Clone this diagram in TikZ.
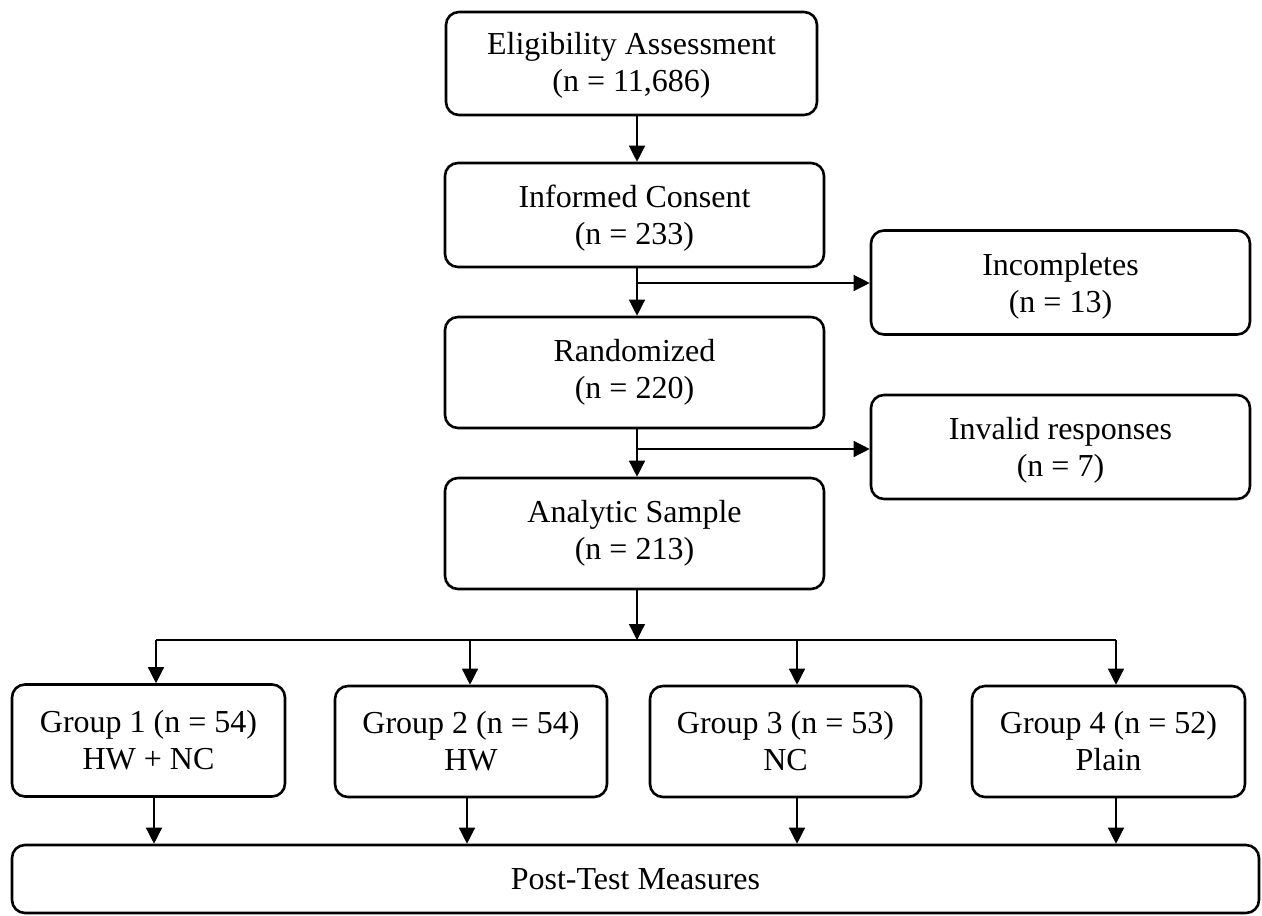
\documentclass[tikz,border=0pt]{standalone}
\usepackage{fontspec}
\setmainfont{Liberation Serif}
\usetikzlibrary{arrows.meta}
\begin{document}
\begin{tikzpicture}[x=1pt,y=-1pt,
  stagebox/.style={draw, line width=2.6pt, rounded corners=13pt, inner sep=0pt},
  boxtext/.style={inner sep=0pt, align=center, font=\fontsize{32}{37}\selectfont},
  conn/.style={line width=1.3pt},
  arr/.style={line width=1.3pt, -{Triangle[length=16pt,width=16pt]}}]
\useasboundingbox (0,0) rectangle (1262,916);
% main column boxes
\node[stagebox, minimum width=371pt, minimum height=103pt] (elig) at (631.5,63.5) {};
\node[stagebox, minimum width=379pt, minimum height=104pt] (cons) at (634.5,215) {};
\node[stagebox, minimum width=379pt, minimum height=104pt] (inc) at (1060.5,282.5) {};
\node[stagebox, minimum width=379pt, minimum height=111pt] (rand) at (634.5,372.5) {};
\node[stagebox, minimum width=379pt, minimum height=104pt] (inv) at (1060.5,447) {};
\node[stagebox, minimum width=379pt, minimum height=111pt] (anal) at (634.5,533.5) {};
% main column texts
\node[boxtext] (elig-t) at ([yshift=-2pt]elig.center) {Eligibility Assessment\\(n = 11,686)};
\node[boxtext] (cons-t) at ([yshift=-3.5pt]cons.center) {Informed Consent\\(n = 233)};
\node[boxtext] (inc-t) at ([yshift=-3.5pt]inc.center) {Incompletes\\(n = 13)};
\node[boxtext] (rand-t) at (rand.center) {Randomized\\(n = 220)};
\node[boxtext] (inv-t) at ([yshift=-3.5pt]inv.center) {Invalid responses\\(n = 7)};
\node[boxtext] (anal-t) at (anal.center) {Analytic Sample\\(n = 213)};
% groups
\node[stagebox, minimum width=273pt, minimum height=112pt] (g1) at (148.5,740.5) {};
\node[stagebox, minimum width=272pt, minimum height=111pt] (g2) at (471,741.5) {};
\node[stagebox, minimum width=271pt, minimum height=111pt] (g3) at (785.5,741.5) {};
\node[stagebox, minimum width=273pt, minimum height=111pt] (g4) at (1108.5,741.5) {};
\node[boxtext] (g1-t) at (g1.center) {Group 1 (n = 54)\\HW + NC};
\node[boxtext] (g2-t) at (g2.center) {Group 2 (n = 54)\\HW};
\node[boxtext] (g3-t) at (g3.center) {Group 3 (n = 53)\\NC};
\node[boxtext] (g4-t) at (g4.center) {Group 4 (n = 52)\\Plain};
\node[stagebox, minimum width=1247pt, minimum height=68pt] (post) at (635.5,879) {};
\node[boxtext] (post-t) at (post.center) {Post-Test Measures};
% coordinates
\coordinate (b1) at (637,283);
\coordinate (b2) at (637,449);
\coordinate (split) at (637,640);
\coordinate (d1) at (156,640);
\coordinate (d2) at (470,640);
\coordinate (d3) at (797,640);
\coordinate (d4) at (1116,640);
% connectors
\draw[arr] (elig.south -| split) -- (cons.north -| split);
\draw[arr] (cons.south -| split) -- (rand.north -| split);
\draw[arr] (b1) -- (b1 -| inc.west);
\draw[arr] (rand.south -| split) -- (anal.north -| split);
\draw[arr] (b2) -- (b2 -| inv.west);
\draw[arr] (anal.south -| split) -- (split);
\draw[conn] (d1) -- (d4);
\draw[arr] (d1) -- (d1 |- g1.north);
\draw[arr] (d2) -- (d2 |- g2.north);
\draw[arr] (d3) -- (d3 |- g3.north);
\draw[arr] (d4) -- (d4 |- g4.north);
\draw[arr] ([xshift=5.5pt]g1.south) -- ([xshift=5.5pt]g1.south |- post.north);
\draw[arr] ([xshift=-4pt]g2.south) -- ([xshift=-4pt]g2.south |- post.north);
\draw[arr] ([xshift=11.5pt]g3.south) -- ([xshift=11.5pt]g3.south |- post.north);
\draw[arr] ([xshift=7.5pt]g4.south) -- ([xshift=7.5pt]g4.south |- post.north);
\end{tikzpicture}
\end{document}
